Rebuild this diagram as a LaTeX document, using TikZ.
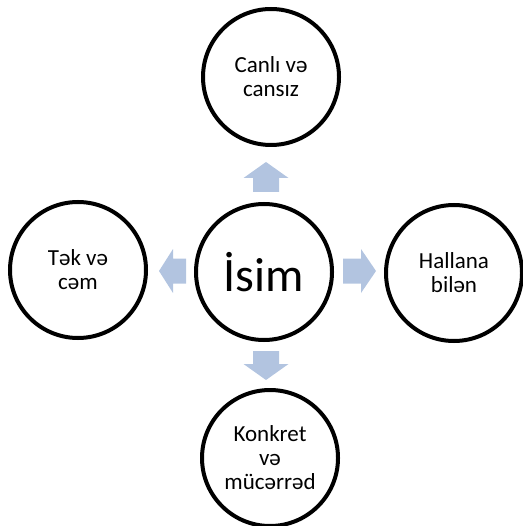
\documentclass[tikz,border=0pt]{standalone}
\usepackage{fontspec}
\setmainfont{Carlito}
\definecolor{arrowblue}{RGB}{178,196,224}
\tikzset{
  bubble/.style={circle, draw=black, line width=4pt, minimum size=136pt, inner sep=0pt, align=center, font=\fontsize{23}{24}\selectfont},
  arrowshape/.style={fill=arrowblue, draw=none}
}
\begin{document}
\begin{tikzpicture}[x=1pt, y=-1pt]
\useasboundingbox (0,0) rectangle (522,526);
\node[bubble, font=\fontsize{48}{50}\selectfont] (c) at (264,272) {İsim};
\node[bubble] (t) at (271,77) {Canlı və\\cansız};
\node[bubble] (l) at (78,270) {Tək və\\cəm};
\node[bubble] (r) at (454,273) {Hallana\\bilən};
\node[bubble] (b) at (270,458) {Konkret\\və\\mücərrəd};
% up arrow
\fill[arrowshape] (266,162) -- (288.5,178) -- (279,178) -- (279,192) -- (253,192) -- (253,178) -- (243.5,178) -- cycle;
% down arrow
\fill[arrowshape] (266,380) -- (288.5,364) -- (279,364) -- (279,351) -- (253,351) -- (253,364) -- (243.5,364) -- cycle;
% left arrow
\fill[arrowshape] (159,271) -- (173,249) -- (173,258.5) -- (186,258.5) -- (186,283.5) -- (173,283.5) -- (173,293) -- cycle;
% right arrow
\fill[arrowshape] (376,271) -- (361,249) -- (361,258.5) -- (343,258.5) -- (343,283.5) -- (361,283.5) -- (361,293) -- cycle;
\end{tikzpicture}
\end{document}
